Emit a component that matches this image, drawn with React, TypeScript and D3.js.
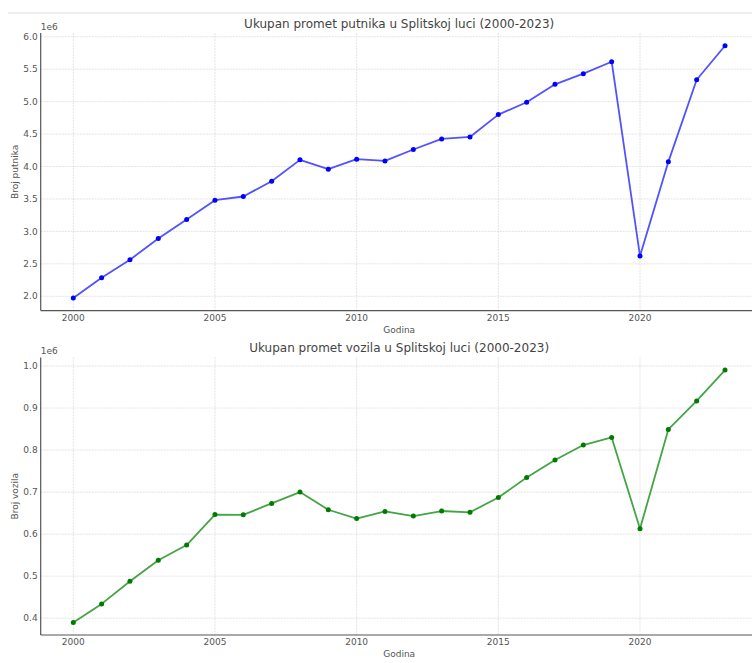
import React from "react";
import * as d3 from "d3";

const years = d3.range(2000, 2024);
const passengers = [1.974, 2.287, 2.564, 2.892, 3.185, 3.482, 3.538, 3.774, 4.103, 3.959, 4.113, 4.087, 4.262, 4.426, 4.456, 4.8, 4.99, 5.267, 5.431, 5.615, 2.621, 4.072, 5.338, 5.862].map((v) => v * 1e6);
const vehicles = [0.39, 0.434, 0.488, 0.538, 0.574, 0.6465, 0.646, 0.673, 0.7, 0.658, 0.637, 0.654, 0.643, 0.655, 0.652, 0.687, 0.7345, 0.7765, 0.812, 0.83, 0.613, 0.849, 0.917, 0.9905].map((v) => v * 1e6);
const xTicks = [2000, 2005, 2010, 2015, 2020];
const yTicksPassengers = [2.0, 2.5, 3.0, 3.5, 4.0, 4.5, 5.0, 5.5, 6.0];
const yTicksVehicles = [0.4, 0.5, 0.6, 0.7, 0.8, 0.9, 1.0];

const FONT = "DejaVu Sans, sans-serif";

type PanelProps = {
  top: number;
  bottom: number;
  values: number[];
  yTicks: number[];
  title: string;
  yLabel: string;
  lineColor: string;
  markerColor: string;
};

const X0 = 40.7;
const X1 = 757.6;

function Panel({ top, bottom, values, yTicks, title, yLabel, lineColor, markerColor }: PanelProps) {
  const xMin = 2000 - 23 * 0.05;
  const xMax = 2023 + 23 * 0.05;
  const x = d3.scaleLinear().domain([xMin, xMax]).range([X0, X1]);
  const vMin = d3.min(values)! / 1e6;
  const vMax = d3.max(values)! / 1e6;
  const pad = (vMax - vMin) * 0.05;
  const y = d3.scaleLinear().domain([vMin - pad, vMax + pad]).range([bottom, top]);
  const line = d3
    .line<number>()
    .x((_, i) => x(years[i]))
    .y((d) => y(d / 1e6));
  const fmt = d3.format(".1f");
  return (
    <g>
      {xTicks.map((t) => (
        <line key={"gx" + t} x1={x(t)} x2={x(t)} y1={top} y2={bottom} stroke="#dcdcdc" strokeWidth={0.8} strokeDasharray="2,1" />
      ))}
      {yTicks.map((t) => (
        <line key={"gy" + t} x1={X0} x2={X1} y1={y(t)} y2={y(t)} stroke="#dcdcdc" strokeWidth={0.8} strokeDasharray="2,1" />
      ))}
      <path d={line(values) || ""} fill="none" stroke={lineColor} strokeWidth={1.8} strokeLinejoin="round" />
      {values.map((v, i) => (
        <circle key={i} cx={x(years[i])} cy={y(v / 1e6)} r={2.5} fill={markerColor} />
      ))}
      <line x1={X0} x2={X0} y1={top} y2={bottom} stroke="#555" strokeWidth={1.2} />
      <line x1={X0} x2={X1} y1={bottom} y2={bottom} stroke="#555" strokeWidth={1.2} />
      {yTicks.map((t) => (
        <text key={"ty" + t} x={X0 - 3} y={y(t)} dy="0.35em" textAnchor="end" fontSize={9} fill="#555" fontFamily={FONT}>
          {fmt(t)}
        </text>
      ))}
      {xTicks.map((t) => (
        <text key={"tx" + t} x={x(t)} y={bottom + 7} dy="0.35em" textAnchor="middle" fontSize={9} fill="#555" fontFamily={FONT}>
          {t}
        </text>
      ))}
      <text x={X0} y={top - 3} fontSize={9} fill="#555" fontFamily={FONT}>1e6</text>
      <text x={(X0 + X1) / 2} y={top - 5} textAnchor="middle" fontSize={12} fill="#444" fontFamily={FONT}>
        {title}
      </text>
      <text x={(X0 + X1) / 2} y={bottom + 19} dy="0.35em" textAnchor="middle" fontSize={9} fill="#555" fontFamily={FONT}>
        Godina
      </text>
      <text
        transform={`translate(15,${(top + bottom) / 2}) rotate(-90)`}
        textAnchor="middle"
        dy="0.35em"
        fontSize={9}
        fill="#555"
        fontFamily={FONT}
      >
        {yLabel}
      </text>
    </g>
  );
}

export default function App() {
  return (
    <svg width={752} height={663} style={{ position: "absolute", left: 0, top: 0, background: "#fff" }}>
      <rect x={0} y={0} width={752} height={663} fill="#fff" />
      <line x1={8} x2={752} y1={13} y2={13} stroke="#ddd" strokeWidth={1} />
      <Panel
        top={33.1}
        bottom={310.6}
        values={passengers}
        yTicks={yTicksPassengers}
        title="Ukupan promet putnika u Splitskoj luci (2000-2023)"
        yLabel="Broj putnika"
        lineColor="#5252ff"
        markerColor="#0000ff"
      />
      <Panel
        top={357.4}
        bottom={635}
        values={vehicles}
        yTicks={yTicksVehicles}
        title="Ukupan promet vozila u Splitskoj luci (2000-2023)"
        yLabel="Broj vozila"
        lineColor="#44a544"
        markerColor="#007a00"
      />
    </svg>
  );
}
